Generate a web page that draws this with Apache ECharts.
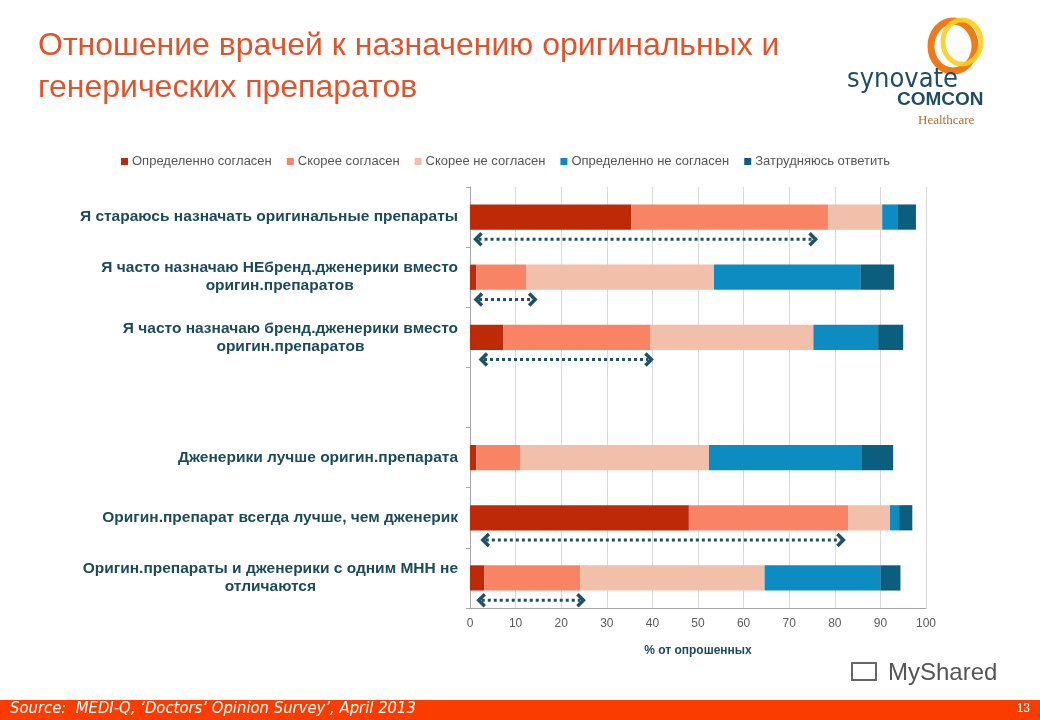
<!DOCTYPE html>
<html><head><meta charset="utf-8">
<script src="https://cdn.jsdelivr.net/npm/echarts@6/dist/echarts.min.js"></script>
<style>html,body{margin:0;padding:0;background:#fff}#c{width:1040px;height:720px}</style>
</head><body><div id="c"></div>
<script>
// Categories (top to bottom); empty string = gap slot
const categories = [
  'Я стараюсь назначать оригинальные препараты',
  'Я часто назначаю НЕбренд.дженерики вместо\nоригин.препаратов',
  'Я часто назначаю бренд.дженерики вместо\nоригин.препаратов',
  '',
  'Дженерики лучше оригин.препарата',
  'Оригин.препарат всегда лучше, чем дженерик',
  'Оригин.препараты и дженерики с одним МНН не\nотличаются'
];
const seriesNames = ['Определенно согласен','Скорее согласен','Скорее не согласен','Определенно не согласен','Затрудняюсь ответить'];
const definitelyAgree    = [35.4,  1.4,  7.3, null,  1.4, 48.0,  3.1];
const ratherAgree        = [43.1, 11.0, 32.3, null,  9.7, 34.9, 21.1];
const ratherDisagree     = [11.9, 41.1, 35.7, null, 41.3,  9.2, 40.4];
const definitelyDisagree = [ 3.3, 32.1, 14.2, null, 33.4,  2.0, 25.4];
const hardToSay          = [ 4.1,  7.4,  5.5, null,  7.0,  2.9,  4.4];
// Dotted double arrows: [category index, from %, to %]
const arrows = [[0, 1.0, 76.0],[1, 1.1, 14.5],[2, 2.2, 40.0],[5, 2.6, 82.1],[6, 1.7, 25.1]];
const xTicks = [0,10,20,30,40,50,60,70,80,90,100];

const colors = ['#BE2A07','#F98465','#F1BFAA','#0C8CC1','#0B5E7E'];
const values = [definitelyAgree, ratherAgree, ratherDisagree, definitelyDisagree, hardToSay];
const labelColor = '#1B4B5B';
const arrowColor = '#1D5266';

const chart = echarts.init(document.getElementById('c'), null, {renderer:'canvas'});
const barSeries = seriesNames.map((n,i)=>({
  name:n, type:'bar', stack:'total', data: values[i], barWidth:'42%',
  itemStyle:{color:colors[i]}, emphasis:{disabled:true}
}));
const arrowSeries = {
  type:'custom', name:'arrows', data: arrows, encode:{x:[1,2], y:0}, z:5, silent:true,
  renderItem:function(params, api){
    const cat = api.value(0);
    const p1 = api.coord([api.value(1), cat]);
    const p2 = api.coord([api.value(2), cat]);
    const off = api.size([0,1])[1]*0.37;
    const y = p1[1] + off;
    const x1 = p1[0], x2 = p2[0];
    const hw = 7, hh = 6;
    return {type:'group', children:[
      {type:'line', shape:{x1:x1+4, y1:y, x2:x2-4, y2:y},
        style:{stroke:arrowColor, lineWidth:3, lineDash:[3,3]}},
      {type:'polyline', shape:{points:[[x1+hw,y-hh],[x1+1,y],[x1+hw,y+hh]]},
        style:{stroke:arrowColor, lineWidth:3.5, fill:null}},
      {type:'polyline', shape:{points:[[x2-hw,y-hh],[x2-1,y],[x2-hw,y+hh]]},
        style:{stroke:arrowColor, lineWidth:3.5, fill:null}}
    ]};
  }
};

chart.setOption({
  animation:false,
  textStyle:{fontFamily:'Liberation Sans, Arial, sans-serif'},
  legend:{
    data: seriesNames, left:116, top:150, itemWidth:7, itemHeight:7, itemGap:15,
    icon:'rect', textStyle:{fontSize:13, color:'#555555', padding:[0,0,0,-1]}
  },
  grid:{left:470, right:114, top:187, bottom:112, containLabel:false},
  xAxis:{
    type:'value', min:0, max:100, interval:10,
    axisLine:{show:true, lineStyle:{color:'#A6A6A6'}},
    axisTick:{show:false},
    splitLine:{show:true, lineStyle:{color:'#D9D9D9'}},
    axisLabel:{color:'#595959', fontSize:12, margin:10,
      formatter:function(v){return xTicks.indexOf(v)>=0 ? String(v) : '';}},
    name:'% от опрошенных', nameLocation:'middle', nameGap:37,
    nameTextStyle:{color:labelColor, fontSize:12, fontWeight:'bold'}
  },
  yAxis:{
    type:'category', data: categories, inverse:true,
    axisLine:{show:true, lineStyle:{color:'#A6A6A6'}},
    axisTick:{show:true, length:4, lineStyle:{color:'#A6A6A6'}},
    axisLabel:{
      margin:12, align:'right', color:labelColor,
      formatter:function(v){ return v ? v.split('\n').map(l=>'{c|'+l+'}').join('\n') : ''; },
      rich:{c:{align:'center', fontSize:15.5, fontWeight:'bold', color:labelColor, lineHeight:18,
        fontFamily:'Liberation Sans, Arial, sans-serif'}}
    }
  },
  series:[...barSeries, arrowSeries],
  graphic:[
    {type:'text', left:38, top:25, style:{text:'Отношение врачей к назначению оригинальных и\nгенерических препаратов',
      fill:'#E2532B', font:'32px "Liberation Sans", Arial, sans-serif', lineHeight:42}},
    // logo
    {type:'ellipse', shape:{cx:953, cy:46, rx:22, ry:25}, style:{fill:null, stroke:'#EE7A1A', lineWidth:7}},
    {type:'ellipse', shape:{cx:962, cy:42, rx:19, ry:22}, style:{fill:null, stroke:'#F8CF1F', lineWidth:5, opacity:0.9}},
    {type:'text', left:847, top:66, style:{text:'synovate', fill:'#1F4E64', font:'27px "DejaVu Sans Condensed", "Liberation Sans Narrow", sans-serif'}},
    {type:'text', left:897, top:90, style:{text:'COMCON', fill:'#1F4E64', font:'bold 19px "Liberation Sans", Arial, sans-serif'}},
    {type:'text', left:918, top:114, style:{text:'Healthcare', fill:'#B8682D', font:'13px "Liberation Serif", serif'}},
    // watermark
    {type:'text', left:888, top:661, style:{text:'MyShared', fill:'#555555', font:'24px "Liberation Sans", Arial, sans-serif'}},
    {type:'rect', shape:{x:852, y:663, width:24, height:17}, style:{fill:null, stroke:'#666', lineWidth:2}},
    // footer
    {type:'rect', shape:{x:0, y:700, width:1040, height:20}, style:{fill:'#FB3C00'}},
    {type:'text', left:10, top:700, style:{text:'Source:  MEDI-Q, ‘Doctors’ Opinion Survey’, April 2013', fill:'#FFFFFF',
      font:'italic 16.5px "Liberation Sans Narrow", "DejaVu Sans Condensed", sans-serif'}},
    {type:'text', right:10, top:703, style:{text:'13', fill:'#FFFFFF', font:'12px "Liberation Sans", Arial, sans-serif'}}
  ]
});
</script></body></html>
